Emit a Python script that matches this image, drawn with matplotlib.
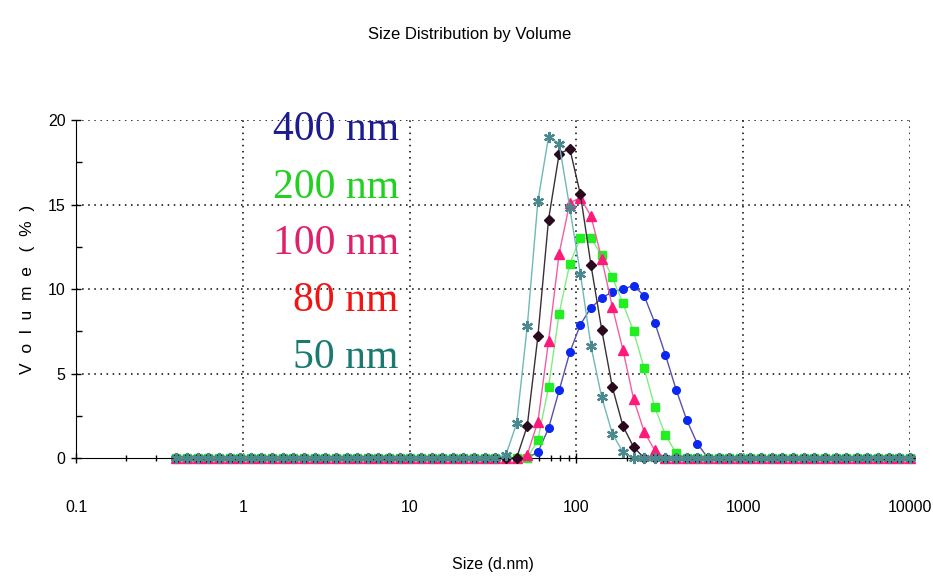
import numpy as np
import matplotlib
matplotlib.use("Agg")
import matplotlib.pyplot as plt
from matplotlib.ticker import FixedLocator, NullFormatter

# size classes of the instrument (d.nm), 70 bins
sizes = [0.4, 0.4632, 0.5365, 0.6213, 0.7195, 0.8332, 0.9649, 1.117, 1.294, 1.499,
         1.736, 2.010, 2.328, 2.696, 3.122, 3.615, 4.187, 4.849, 5.615, 6.503,
         7.531, 8.721, 10.10, 11.70, 13.54, 15.69, 18.17, 21.04, 24.36, 28.21,
         32.67, 37.84, 43.82, 50.75, 58.77, 68.06, 78.82, 91.28, 105.7, 122.4,
         141.8, 164.2, 190.1, 220.2, 255.0, 295.3, 342.0, 396.1, 458.7, 531.2,
         615.1, 712.4, 825.0, 955.4, 1106, 1281, 1484, 1718, 1990, 2305,
         2669, 3091, 3580, 4145, 4801, 5560, 6439, 7456, 8635, 10000]

# volume % in the non-zero bins, with the index of the first bin
vol_400 = [0.35, 1.75, 4.0, 6.25, 7.9, 8.9, 9.45, 9.85, 10.0, 10.2, 9.6, 8.0, 6.1, 4.05, 2.25, 0.85]
start_400 = 34
vol_200 = [1.05, 4.2, 8.55, 11.5, 13.0, 13.0, 12.0, 10.7, 9.15, 7.5, 5.3, 3.0, 1.35, 0.3]
start_200 = 34
vol_100 = [0.2, 2.15, 6.9, 12.1, 15.1, 15.4, 14.3, 11.8, 8.95, 6.4, 3.5, 1.55, 0.45]
start_100 = 33
vol_80 = [1.9, 7.2, 14.1, 18.0, 18.3, 15.6, 11.4, 7.6, 4.2, 1.9, 0.65]
start_80 = 33
vol_50 = [0.2, 2.05, 7.8, 15.2, 19.0, 18.6, 14.8, 10.9, 6.6, 3.6, 1.45, 0.35]
start_50 = 31

labels = ["400 nm", "200 nm", "100 nm", "80 nm", "50 nm"]
label_colors = ["#1c1c8e", "#22d022", "#e0206a", "#f01414", "#1a7a70"]


def full_curve(vals, start):
    y = np.zeros(len(sizes))
    y[start:start + len(vals)] = vals
    return y


sans = ["Liberation Sans", "DejaVu Sans"]

fig = plt.figure(figsize=(9.33, 5.77), dpi=100)
ax = fig.add_axes([0.0815, 0.2062, 0.8938, 0.5858])

x = np.array(sizes)
series = [
    (full_curve(vol_400, start_400), "#5a50a8", "#0a28f0", "o", 5.5, 1.0),
    (full_curve(vol_200, start_200), "#80ee80", "#22ee22", "s", 5.5, 1.0),
    (full_curve(vol_100, start_100), "#f060a0", "#ff1a7a", "^", 7, 1.0),
    (full_curve(vol_80, start_80), "#3a3038", "#2a0a1e", "D", 5.5, 1.0),
    (full_curve(vol_50, start_50), "#70b8b8", "#4a8a8e", (6, 2, 0), 8, 1.6),
]
for y, lc, mc, mk, ms, mew in series:
    ax.plot(x, y, color=lc, lw=1.0, marker=mk, ms=ms, mfc=mc, mec=mc, mew=mew,
            clip_on=False, zorder=3)

ax.set_xscale("log")
ax.set_xlim(0.1, 10000)
ax.set_ylim(0, 20)

ax.xaxis.set_major_locator(FixedLocator([0.1, 1, 10, 100, 1000, 10000]))
ax.set_xticklabels(["0.1", "1", "10", "100", "1000", "10000"])
minor = [m * 10.0 ** e for e in range(-1, 4) for m in range(2, 10)]
ax.xaxis.set_minor_locator(FixedLocator(minor))
ax.xaxis.set_minor_formatter(NullFormatter())
ax.set_yticks([0, 5, 10, 15, 20])
ax.yaxis.set_minor_locator(FixedLocator([2.5, 7.5, 12.5, 17.5]))

ax.tick_params(which="major", direction="inout", length=7, width=1,
               labelsize=11.5, colors="black")
ax.tick_params(axis="x", which="major", pad=27)
ax.tick_params(axis="y", which="major", pad=4)
ax.tick_params(which="minor", direction="inout", length=5, width=1)
ax.tick_params(axis="y", which="minor", direction="in", length=4)
for t in ax.get_xticklabels() + ax.get_yticklabels():
    t.set_family(sans)

# dotted grid at the major ticks
for xv in [1, 10, 100, 1000, 10000]:
    ax.axvline(xv, color="black", lw=1.1, ls=(0, (1, 3)), zorder=1)
for yv in [5, 10, 15, 20]:
    ax.axhline(yv, color="black", lw=1.1, ls=(0, (1, 3)), zorder=1)

ax.spines["top"].set_visible(False)
ax.spines["right"].set_visible(False)

fig.text(0.503, 0.94, "Size Distribution by Volume", ha="center", va="center",
         fontsize=12, family=sans)
ax.set_xlabel("Size (d.nm)", fontsize=11.5, family=sans, labelpad=30)
ax.set_ylabel("V  o  l  u  m  e   (  %  )", fontsize=12.5, family=sans, labelpad=9)

# sample labels
y_pos = [0.775, 0.675, 0.577, 0.479, 0.38]
for lab, col, yp in zip(labels, label_colors, y_pos):
    fig.text(0.4275, yp, lab, ha="right", va="center",
             fontsize=30, color=col, family=["Liberation Serif", "DejaVu Serif"])

fig.savefig("out.png", dpi=100)
